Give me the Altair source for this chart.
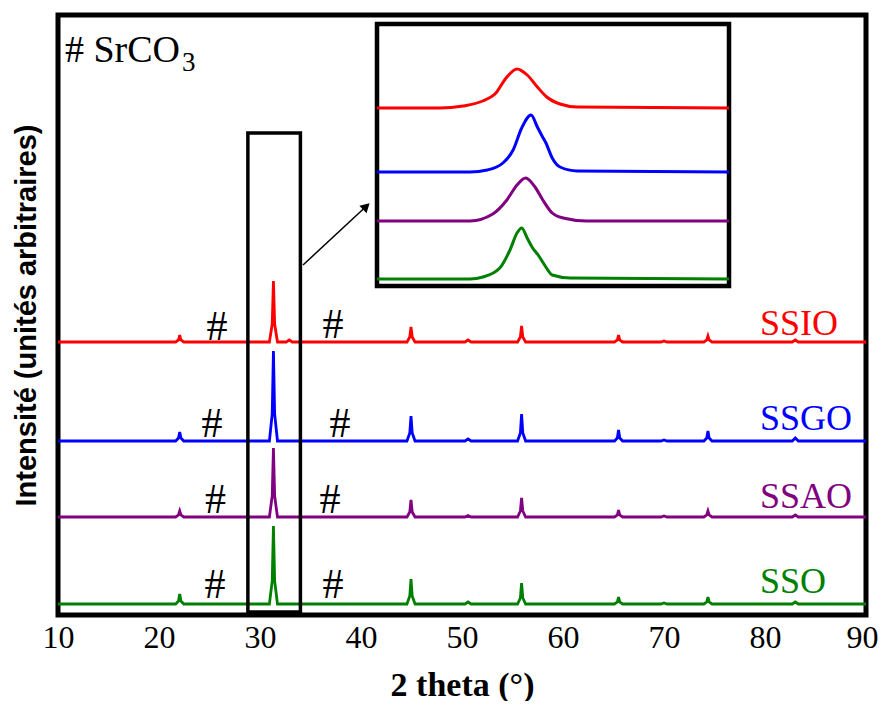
import altair as alt
import pandas as pd

# ---------------- data ----------------
samples = ["SSO", "SSAO", "SSGO", "SSIO"]
colors = ["#008000", "#800080", "#0000ff", "#ff0000"]
offsets = [0, 87, 163, 262]

two_theta = [10.0,
             21.65, 21.93, 22.05, 22.17, 22.45,
             30.93, 31.21, 31.33, 31.45, 31.73,
             32.6, 32.9, 33.2,
             44.55, 44.83, 44.95, 45.07, 45.35,
             50.3, 50.6, 50.9,
             55.5, 55.78, 55.9, 56.02, 56.3,
             65.1, 65.38, 65.5, 65.62, 65.9,
             69.7, 70.0, 70.3,
             73.95, 74.23, 74.35, 74.47, 74.75,
             82.7, 83.0, 83.3,
             90.0]

int_ssio = [0,
            0, 2, 7, 2, 0,
            0, 18, 61, 18, 0,
            0, 2, 0,
            0, 5, 15, 5, 0,
            0, 2, 0,
            0, 5, 16, 5, 0,
            0, 2, 7, 2, 0,
            0, 1, 0,
            0, 2, 6, 2, 0,
            0, 2, 0,
            0]
int_ssgo = [0,
            0, 3, 9, 3, 0,
            0, 27, 90, 27, 0,
            0, 0, 0,
            0, 8, 25, 8, 0,
            0, 2, 0,
            0, 8, 27, 8, 0,
            0, 3, 11, 3, 0,
            0, 1, 0,
            0, 3, 10, 3, 0,
            0, 3, 0,
            0]
int_ssao = [0,
            0, 2, 6, 2, 0,
            0, 21, 69, 21, 0,
            0, 0, 0,
            0, 5, 17, 5, 0,
            0, 1.5, 0,
            0, 6, 19, 6, 0,
            0, 2, 7, 2, 0,
            0, 1, 0,
            0, 2, 6, 2, 0,
            0, 2, 0,
            0]
int_sso = [0,
           0, 3, 10, 3, 0,
           0, 23, 78, 23, 0,
           0, 0, 0,
           0, 8, 25, 8, 0,
           0, 2, 0,
           0, 6, 21, 6, 0,
           0, 2, 7, 2, 0,
           0, 1, 0,
           0, 2, 7, 2, 0,
           0, 2, 0,
           0]

# inset (zoom of the main peak)
inset_offsets = [7, 65, 114, 178]
inset_x_sso = [29.5, 30.69, 30.855, 31.07, 31.20, 31.29, 31.35, 31.42, 31.49, 31.56, 31.65, 31.74, 31.97, 34.0]
inset_y_sso = [0, 0, 2, 11, 29, 46, 51, 41, 31, 24, 13, 4, 1, 0]
inset_x_ssao = [29.5, 30.69, 30.98, 31.16, 31.29, 31.40, 31.52, 31.62, 31.74, 31.88, 32.18, 34.0]
inset_y_ssao = [0, 0, 7, 21, 36, 43, 34, 21, 8, 3, 0, 0]
inset_x_ssgo = [29.5, 30.69, 30.91, 31.11, 31.24, 31.35, 31.47, 31.55, 31.61, 31.66, 31.74, 31.84, 32.06, 34.0]
inset_y_ssgo = [0, 0, 2, 9, 22, 44, 57, 45, 36, 29, 14, 5, 1, 0]
inset_x_ssio = [29.5, 30.3, 30.6, 30.85, 31.02, 31.15, 31.29, 31.42, 31.55, 31.67, 31.84, 32.06, 34.0]
inset_y_ssio = [0, 0, 2, 7, 15, 30, 39, 33, 21, 11, 4, 1, 0]

label_x = [79.5, 79.5, 79.5, 79.5]
label_y = [11, 96, 174, 269]

hash_x = [25.54, 37.23, 25.59, 36.93, 25.25, 37.92, 25.74, 37.23]
hash_y = [6, 6, 91, 91, 167, 167, 264, 266]

x_ticks = [10, 20, 30, 40, 50, 60, 70, 80, 90]

# ---------------- frames ----------------
rows = []
for s, off, ys in zip(samples, offsets, [int_sso, int_ssao, int_ssgo, int_ssio]):
    for x, y in zip(two_theta, ys):
        rows.append({"sample": s, "x": x, "y": y + off})
df_main = pd.DataFrame(rows)

rows = []
inset_xs = [inset_x_sso, inset_x_ssao, inset_x_ssgo, inset_x_ssio]
inset_ys = [inset_y_sso, inset_y_ssao, inset_y_ssgo, inset_y_ssio]
for s, off, xs, ys in zip(samples, inset_offsets, inset_xs, inset_ys):
    for x, y in zip(xs, ys):
        rows.append({"sample": s, "x": x, "y": y + off})
df_inset = pd.DataFrame(rows)

df_labels = pd.DataFrame({"sample": samples, "x": label_x, "y": label_y})
df_hash = pd.DataFrame({"x": hash_x, "y": hash_y, "t": ["#"] * len(hash_x)})

SERIF = "Liberation Serif"
color_scale = alt.Scale(domain=samples, range=colors)
xs_main = alt.Scale(domain=[10, 90], nice=False, zero=False)
ys_main = alt.Scale(domain=[-11, 589], nice=False, zero=False)

x_axis = alt.Axis(values=x_ticks, ticks=False, domain=False, grid=False,
                  labelFont=SERIF, labelFontSize=32, labelColor="black",
                  labelPadding=7, labelFlush=False, labelOverlap=False,
                  labelOffset={"condition": {"test": "datum.value === 90", "value": -4},
                               "value": 0},
                  title="2 theta (°)", titleFont=SERIF, titleFontSize=34,
                  titleFontWeight="bold", titleColor="black", titlePadding=15)
y_axis = alt.Axis(labels=False, ticks=False, domain=False, grid=False,
                  title="Intensité (unités arbitraires)", titleFont="Liberation Sans",
                  titleFontSize=29, titleFontWeight="bold", titleColor="black",
                  titlePadding=17)

X = alt.X("x:Q", scale=xs_main, axis=x_axis)
Y = alt.Y("y:Q", scale=ys_main, axis=y_axis)

lines = alt.Chart(df_main).mark_line(strokeWidth=2.8, interpolate="linear").encode(
    x=X, y=Y,
    color=alt.Color("sample:N", scale=color_scale, legend=None),
    detail="sample:N",
)

labels = alt.Chart(df_labels).mark_text(font=SERIF, fontSize=36, align="left",
                                        baseline="alphabetic").encode(
    x=X, y=Y, text="sample:N",
    color=alt.Color("sample:N", scale=color_scale, legend=None),
)

hashes = alt.Chart(df_hash).mark_text(font=SERIF, fontSize=42, align="center",
                                      baseline="alphabetic", color="black").encode(
    x=X, y=Y, text="t:N")

df_title = pd.DataFrame({"x": [10.69], "y": [542], "t": ["# SrCO"]})
df_sub = pd.DataFrame({"x": [22.28], "y": [533], "t": ["3"]})
srco = alt.Chart(df_title).mark_text(font=SERIF, fontSize=38, align="left",
                                     baseline="alphabetic", color="black").encode(
    x=X, y=Y, text="t:N")
sub3 = alt.Chart(df_sub).mark_text(font=SERIF, fontSize=27, align="left",
                                   baseline="alphabetic", color="black").encode(
    x=X, y=Y, text="t:N")

df_box = pd.DataFrame({"x": [28.8], "x2": [34.0], "y": [-8], "y2": [471]})
box = alt.Chart(df_box).mark_rect(filled=False, stroke="black", strokeWidth=3.5).encode(
    x=X, x2="x2:Q", y=Y, y2="y2:Q")

df_arrow = pd.DataFrame({"x": [34.26, 40.55], "y": [339, 398]})
arrow_line = alt.Chart(df_arrow).mark_line(color="black", strokeWidth=1.5).encode(x=X, y=Y)
df_head = pd.DataFrame({"x": [40.52], "y": [397.6]})
arrow_head = alt.Chart(df_head).mark_point(shape="triangle-up", filled=True, size=110,
                                           angle=47, color="black", opacity=1).encode(x=X, y=Y)

main = alt.layer(lines, box, arrow_line, arrow_head, labels, hashes, srco, sub3)

# inset
xs_in = alt.Scale(domain=[29.5, 34.0], range=[319, 671], nice=False, zero=False)
ys_in = alt.Scale(domain=[0, 262], range=[271, 9], nice=False, zero=False)
XI = alt.X("x:Q", scale=xs_in, axis=None)
YI = alt.Y("y:Q", scale=ys_in, axis=None)

df_iframe = pd.DataFrame({"x": [29.5], "x2": [34.0], "y": [0], "y2": [262]})
iframe = alt.Chart(df_iframe).mark_rect(fill="white", stroke="black", strokeWidth=4.5).encode(
    x=XI, x2="x2:Q", y=YI, y2="y2:Q")
ilines = alt.Chart(df_inset).mark_line(strokeWidth=3, interpolate="monotone").encode(
    x=XI, y=YI,
    color=alt.Color("sample:N", scale=color_scale, legend=None),
    detail="sample:N",
)
inset = alt.layer(iframe, ilines)

chart = alt.layer(main, inset).resolve_scale(
    x="independent", y="independent", color="independent"
).properties(
    width=808, height=600,
    padding={"left": 50, "top": 7, "right": 13, "bottom": 86},
    autosize=alt.AutoSizeParams(type="none"),
    background="white",
).configure_view(stroke="black", strokeWidth=5)

chart.save("out.html", embed_options={"renderer": "svg", "actions": False})
